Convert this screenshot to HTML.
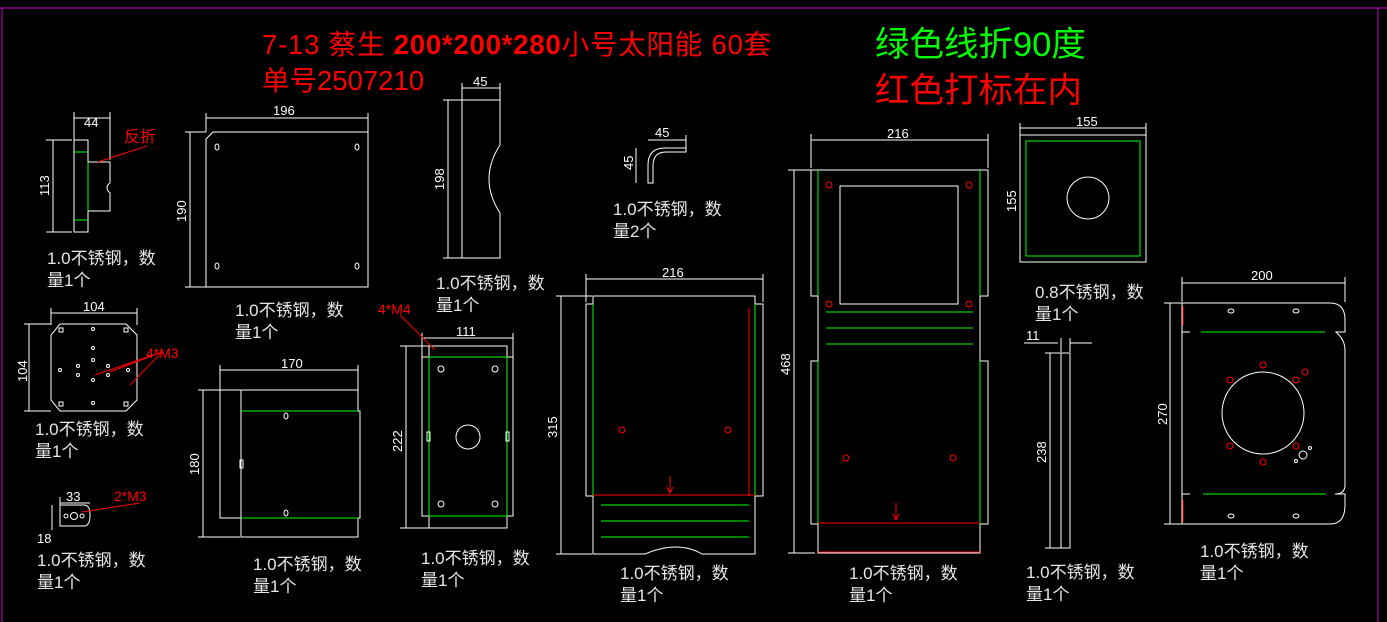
<!DOCTYPE html>
<html><head><meta charset="utf-8"><style>
html,body{margin:0;padding:0;background:#000;}
svg{display:block}
text{font-family:"Liberation Sans","Noto Sans CJK SC",sans-serif;}
.w{stroke:#fff;fill:none;stroke-width:1}
.g{stroke:#0f0;fill:none;stroke-width:1}
.r{stroke:#f00;fill:none;stroke-width:1}
.lb{fill:#e6e6e6;font-size:17px}
.dm{fill:#fff;font-size:13px}
</style></head><body>
<svg width="1387" height="622" viewBox="0 0 1387 622" xmlns="http://www.w3.org/2000/svg">
<rect width="1387" height="622" fill="#000"/>
<line x1="0" y1="8" x2="1387" y2="8" stroke="#c0c" />
<line x1="2" y1="8" x2="2" y2="622" stroke="#c0c" />
<line x1="1378" y1="8" x2="1378" y2="622" stroke="#c0c" />

<text x="262" y="54" fill="#f00" font-size="27.5" letter-spacing="0.8">7-13 蔡生 <tspan font-weight="bold">200*200*280</tspan>小号太阳能  60套</text>
<text x="262" y="90" fill="#f00" font-size="27.5">单号2507210</text>
<text x="875" y="56" fill="#0f0" font-size="34.5">绿色线折90度</text>
<text x="875" y="102" fill="#f00" font-size="34.5">红色打标在内</text>

<!-- Part A -->
<g>
<line class="w" x1="74" y1="118" x2="110" y2="118"/><line class="w" x1="74" y1="112" x2="74" y2="140"/><line class="w" x1="110" y1="112" x2="110" y2="160"/>
<text class="dm" x="84" y="127">44</text>
<line class="w" x1="53" y1="140" x2="53" y2="232"/><line class="w" x1="46" y1="140" x2="72" y2="140"/><line class="w" x1="46" y1="232" x2="72" y2="232"/>
<text class="dm" transform="translate(49,196) rotate(-90)">113</text>
<rect class="w" x="74" y="140" width="14" height="92"/>
<line class="g" x1="74" y1="152" x2="88" y2="152"/><line class="g" x1="74" y1="220" x2="88" y2="220"/><line class="g" x1="88" y1="162" x2="88" y2="211"/>
<path class="w" d="M88 162 H110 V183 Q104 187 110 193 V211 H88"/>
<line class="r" x1="98" y1="162" x2="147" y2="146"/>
<text x="124" y="142" fill="#f00" font-size="16">反折</text>
<text class="lb" x="47" y="264">1.0不锈钢，数</text><text class="lb" x="47" y="286">量1个</text>
</g>
<!-- Part B -->
<g>
<line class="w" x1="206" y1="118" x2="368" y2="118"/><line class="w" x1="206" y1="113" x2="206" y2="132"/><line class="w" x1="368" y1="113" x2="368" y2="132"/>
<text class="dm" x="273" y="115">196</text>
<line class="w" x1="190" y1="132" x2="190" y2="287"/><line class="w" x1="185" y1="132" x2="206" y2="132"/><line class="w" x1="185" y1="287" x2="206" y2="287"/>
<text class="dm" transform="translate(186,222) rotate(-90)">190</text>
<path class="w" d="M213 132 H368 V287 H206 V139 Z"/>
<g class="w"><ellipse cx="217" cy="147" rx="2" ry="3"/><ellipse cx="357" cy="147" rx="2" ry="3"/><ellipse cx="217" cy="266" rx="2" ry="3"/><ellipse cx="357" cy="266" rx="2" ry="3"/></g>
<text class="lb" x="235" y="316">1.0不锈钢，数</text><text class="lb" x="235" y="338">量1个</text>
</g>
<!-- Part C -->
<g>
<line class="w" x1="462" y1="88" x2="500" y2="88"/><line class="w" x1="462" y1="83" x2="462" y2="100"/><line class="w" x1="500" y1="83" x2="500" y2="100"/>
<text class="dm" x="473" y="86">45</text>
<line class="w" x1="448" y1="100" x2="448" y2="258"/><line class="w" x1="443" y1="100" x2="462" y2="100"/><line class="w" x1="443" y1="258" x2="462" y2="258"/>
<text class="dm" transform="translate(444,190) rotate(-90)">198</text>
<path class="w" d="M462 100 H500 V145 Q478 179 500 213 V258 H462 Z"/>
<text class="lb" x="436" y="289">1.0不锈钢，数</text><text class="lb" x="436" y="311">量1个</text>
</g>
<!-- Part D -->
<g>
<line class="w" x1="648" y1="140" x2="686" y2="140"/><line class="w" x1="686" y1="135" x2="686" y2="150"/>
<text class="dm" x="655" y="137">45</text>
<line class="w" x1="636" y1="148" x2="636" y2="183"/>
<text class="dm" transform="translate(633,170) rotate(-90)">45</text>
<path class="w" d="M648 183 V165 Q648 148 665 148 H686 V152 H666 Q653 152 653 166 V183 Z"/>
<text class="lb" x="613" y="215">1.0不锈钢，数</text><text class="lb" x="613" y="237">量2个</text>
</g>
<!-- Part E -->
<g>
<line class="w" x1="586" y1="279" x2="763" y2="279"/><line class="w" x1="586" y1="274" x2="586" y2="302"/><line class="w" x1="763" y1="274" x2="763" y2="302"/>
<text class="dm" x="662" y="277">216</text>
<line class="w" x1="561" y1="296" x2="561" y2="554"/><line class="w" x1="556" y1="296" x2="592" y2="296"/><line class="w" x1="556" y1="554" x2="592" y2="554"/>
<text class="dm" transform="translate(557,438) rotate(-90)">315</text>
<path class="w" d="M593 296 H755 V304 H763 V496 H755 V554 H702 Q678 540 645 554 H593 V496 H586 V304 H593 Z"/>
<line class="g" x1="593" y1="304" x2="593" y2="496"/><line class="g" x1="755" y1="304" x2="755" y2="496"/>
<line class="r" x1="593" y1="495" x2="755" y2="495"/><line class="r" x1="749" y1="308" x2="749" y2="496"/>
<line class="g" x1="601" y1="505" x2="749" y2="505"/><line class="g" x1="601" y1="521" x2="749" y2="521"/><line class="g" x1="601" y1="537" x2="749" y2="537"/>
<circle class="r" cx="622" cy="430" r="3"/><circle class="r" cx="728" cy="430" r="3"/>
<path class="r" d="M670 476 V493 M667 487 L670 493 L673 487"/>
<text class="lb" x="620" y="579">1.0不锈钢，数</text><text class="lb" x="620" y="601">量1个</text>
</g>
<!-- Part F -->
<g>
<line class="w" x1="811" y1="140" x2="988" y2="140"/><line class="w" x1="811" y1="134" x2="811" y2="168"/><line class="w" x1="988" y1="134" x2="988" y2="168"/>
<text class="dm" x="887" y="138">216</text>
<line class="w" x1="794" y1="170" x2="794" y2="553"/><line class="w" x1="788" y1="170" x2="811" y2="170"/><line class="w" x1="788" y1="553" x2="815" y2="553"/>
<text class="dm" transform="translate(790,375) rotate(-90)">468</text>
<path class="w" d="M811 170 H988 V296 H980 V361 H988 V524 H980 V553 H818 V524 H811 V361 H818 V296 H811 Z"/>
<line class="g" x1="818" y1="170" x2="818" y2="296"/><line class="g" x1="980" y1="170" x2="980" y2="296"/>
<line class="g" x1="818" y1="361" x2="818" y2="524"/><line class="g" x1="980" y1="361" x2="980" y2="524"/>
<rect class="w" x="840" y="186" width="118" height="118"/>
<line class="g" x1="826" y1="312" x2="973" y2="312"/><line class="g" x1="826" y1="328" x2="973" y2="328"/><line class="g" x1="826" y1="344" x2="973" y2="344"/>
<line class="r" x1="818" y1="523" x2="980" y2="523"/><line class="r" x1="818" y1="552" x2="980" y2="552" stroke-width="2"/>
<g class="r"><circle cx="829" cy="185" r="3"/><circle cx="969" cy="185" r="3"/><circle cx="829" cy="304" r="3"/><circle cx="969" cy="304" r="3"/><circle cx="846" cy="458" r="3"/><circle cx="953" cy="458" r="3"/></g>
<path class="r" d="M896 503 V520 M893 514 L896 520 L899 514"/>
<text class="lb" x="849" y="579">1.0不锈钢，数</text><text class="lb" x="849" y="601">量1个</text>
</g>
<!-- Part G -->
<g>
<line class="w" x1="1020" y1="128" x2="1146" y2="128"/><line class="w" x1="1020" y1="123" x2="1020" y2="135"/><line class="w" x1="1146" y1="123" x2="1146" y2="135"/>
<text class="dm" x="1076" y="126">155</text>
<line class="w" x1="1020" y1="135" x2="1020" y2="262"/>
<text class="dm" transform="translate(1016,212) rotate(-90)">155</text>
<rect class="w" x="1020" y="135" width="126" height="127"/>
<rect class="g" x="1026" y="141" width="114" height="115"/>
<circle class="w" cx="1088" cy="198" r="21"/>
<text class="lb" x="1035" y="298">0.8不锈钢，数</text><text class="lb" x="1035" y="320">量1个</text>
</g>
<!-- Part H -->
<g>
<line class="w" x1="51" y1="313" x2="137" y2="313"/><line class="w" x1="51" y1="308" x2="51" y2="325"/><line class="w" x1="137" y1="308" x2="137" y2="325"/>
<text class="dm" x="83" y="311">104</text>
<line class="w" x1="29" y1="324" x2="29" y2="411"/><line class="w" x1="24" y1="324" x2="51" y2="324"/><line class="w" x1="24" y1="411" x2="51" y2="411"/>
<text class="dm" transform="translate(27,382) rotate(-90)">104</text>
<path class="w" d="M60 324 H126 L137 335 V400 L126 411 H60 L51 400 V335 Z"/>
<g class="w"><rect x="59" y="328" width="4" height="4"/><rect x="124" y="328" width="4" height="4"/><rect x="59" y="402" width="4" height="4"/><rect x="124" y="402" width="4" height="4"/>
<circle cx="93" cy="329" r="1.5"/><circle cx="93" cy="403" r="1.5"/><circle cx="93" cy="348" r="1.5"/><circle cx="93" cy="360" r="1.5"/><circle cx="93" cy="380" r="1.5"/><circle cx="78" cy="366" r="1.5"/><circle cx="108" cy="366" r="1.5"/><circle cx="78" cy="375" r="1.5"/><circle cx="108" cy="375" r="1.5"/><circle cx="60" cy="370" r="1.5"/><circle cx="128" cy="370" r="1.5"/></g>
<path class="r" d="M162 352 L95 375 M162 352 L110 372 M162 352 L130 385"/>
<text x="146" y="358" fill="#f00" font-size="14">4*M3</text>
<text class="lb" x="35" y="435">1.0不锈钢，数</text><text class="lb" x="35" y="457">量1个</text>
</g>
<!-- Part I -->
<g>
<line class="w" x1="220" y1="370" x2="358" y2="370"/><line class="w" x1="220" y1="365" x2="220" y2="390"/><line class="w" x1="358" y1="365" x2="358" y2="390"/>
<text class="dm" x="281" y="368">170</text>
<line class="w" x1="203" y1="390" x2="203" y2="537"/><line class="w" x1="198" y1="390" x2="220" y2="390"/><line class="w" x1="198" y1="537" x2="240" y2="537"/>
<text class="dm" transform="translate(199,475) rotate(-90)">180</text>
<path class="w" d="M220 390 H358 V411 H360 V518 H358 V537 H241 V518 H220 Z"/>
<line class="w" x1="241" y1="390" x2="241" y2="518"/>
<line class="g" x1="241" y1="411" x2="358" y2="411"/><line class="g" x1="241" y1="518" x2="358" y2="518"/>
<rect class="w" x="240" y="460" width="3" height="8"/>
<ellipse class="w" cx="286" cy="416" rx="2" ry="3"/><ellipse class="w" cx="286" cy="513" rx="2" ry="3"/>
<text class="lb" x="253" y="570">1.0不锈钢，数</text><text class="lb" x="253" y="592">量1个</text>
</g>
<!-- Part J -->
<g>
<line class="w" x1="422" y1="338" x2="513" y2="338"/><line class="w" x1="422" y1="333" x2="422" y2="357"/><line class="w" x1="513" y1="333" x2="513" y2="357"/>
<text class="dm" x="456" y="336">111</text>
<line class="w" x1="406" y1="346" x2="406" y2="528"/><line class="w" x1="400" y1="346" x2="430" y2="346"/><line class="w" x1="400" y1="528" x2="430" y2="528"/>
<text class="dm" transform="translate(402,452) rotate(-90)">222</text>
<path class="w" d="M429 346 H507 V357 H513 V516 H507 V528 H429 V516 H422 V357 H429 Z"/>
<rect class="g" x="429" y="357" width="78" height="159"/>
<circle class="w" cx="468" cy="437" r="12"/>
<g class="w"><circle cx="441" cy="369" r="3"/><circle cx="495" cy="369" r="3"/><circle cx="441" cy="504" r="3"/><circle cx="495" cy="504" r="3"/><rect x="427" y="432" width="3" height="9"/><rect x="506" y="432" width="3" height="9"/></g>
<line class="r" x1="400" y1="315" x2="435" y2="350"/>
<text x="378" y="314" fill="#f00" font-size="14">4*M4</text>
<text class="lb" x="421" y="564">1.0不锈钢，数</text><text class="lb" x="421" y="586">量1个</text>
</g>
<!-- Part K -->
<g>
<line class="w" x1="1024" y1="343" x2="1058" y2="343"/><line class="w" x1="1070" y1="343" x2="1092" y2="343"/>
<line class="w" x1="1061" y1="338" x2="1061" y2="352"/><line class="w" x1="1070" y1="338" x2="1070" y2="352"/>
<text class="dm" x="1026" y="340">11</text>
<line class="w" x1="1050" y1="353" x2="1050" y2="548"/><line class="w" x1="1045" y1="353" x2="1061" y2="353"/><line class="w" x1="1045" y1="548" x2="1061" y2="548"/>
<text class="dm" transform="translate(1046,463) rotate(-90)">238</text>
<rect class="w" x="1061" y="353" width="9" height="195"/>
<text class="lb" x="1026" y="578">1.0不锈钢，数</text><text class="lb" x="1026" y="600">量1个</text>
</g>
<!-- Part L -->
<g>
<line class="w" x1="1182" y1="283" x2="1345" y2="283"/><line class="w" x1="1182" y1="277" x2="1182" y2="302"/><line class="w" x1="1345" y1="277" x2="1345" y2="302"/>
<text class="dm" x="1251" y="280">200</text>
<line class="w" x1="1170" y1="303" x2="1170" y2="524"/><line class="w" x1="1164" y1="303" x2="1182" y2="303"/><line class="w" x1="1164" y1="524" x2="1182" y2="524"/>
<text class="dm" transform="translate(1167,425) rotate(-90)">270</text>
<path class="w" d="M1182 303 H1330 Q1345 303 1345 320 V332 H1336 Q1345 340 1345 350 V485 Q1345 494 1335 494 H1345 V505 Q1345 524 1330 524 H1182 V494 H1190 H1182 V332 H1190 H1182 Z"/>
<line class="w" x1="1182" y1="332" x2="1182" y2="494"/>
<line class="g" x1="1201" y1="332" x2="1325" y2="332"/><line class="g" x1="1203" y1="494" x2="1326" y2="494"/>
<line class="r" x1="1183" y1="306" x2="1183" y2="325"/><line class="r" x1="1183" y1="500" x2="1183" y2="522"/>
<circle class="w" cx="1263" cy="413" r="41"/>
<g class="r"><circle cx="1263" cy="365" r="3"/><circle cx="1263" cy="462" r="3"/><circle cx="1230" cy="380" r="3"/><circle cx="1296" cy="380" r="3"/><circle cx="1230" cy="446" r="3"/><circle cx="1296" cy="446" r="3"/><circle cx="1305" cy="372" r="3"/></g>
<g class="w"><circle cx="1303" cy="455" r="4"/><circle cx="1310" cy="448" r="1.5"/><circle cx="1296" cy="461" r="1.5"/>
<ellipse cx="1231" cy="311" rx="3" ry="2"/><ellipse cx="1296" cy="311" rx="3" ry="2"/><ellipse cx="1231" cy="516" rx="3" ry="2"/><ellipse cx="1296" cy="516" rx="3" ry="2"/></g>
<text class="lb" x="1200" y="557">1.0不锈钢，数</text><text class="lb" x="1200" y="579">量1个</text>
</g>
<!-- Part M -->
<g>
<line class="w" x1="60" y1="503" x2="90" y2="503"/><line class="w" x1="60" y1="497" x2="60" y2="510"/>
<text class="dm" x="66" y="501">33</text>
<text class="dm" x="37" y="543">18</text>
<line class="w" x1="52" y1="505" x2="52" y2="530"/>
<path class="w" d="M60 505 H84 Q90 505 90 515 Q90 526 84 526 H60 Z"/>
<g class="w"><circle cx="66" cy="516" r="2"/><circle cx="74" cy="516" r="3.5"/><circle cx="82" cy="516" r="2"/></g>
<line class="r" x1="82" y1="512" x2="140" y2="503"/>
<text x="114" y="501" fill="#f00" font-size="14">2*M3</text>
<text class="lb" x="37" y="566">1.0不锈钢，数</text><text class="lb" x="37" y="588">量1个</text>
</g>
</svg>
</body></html>
